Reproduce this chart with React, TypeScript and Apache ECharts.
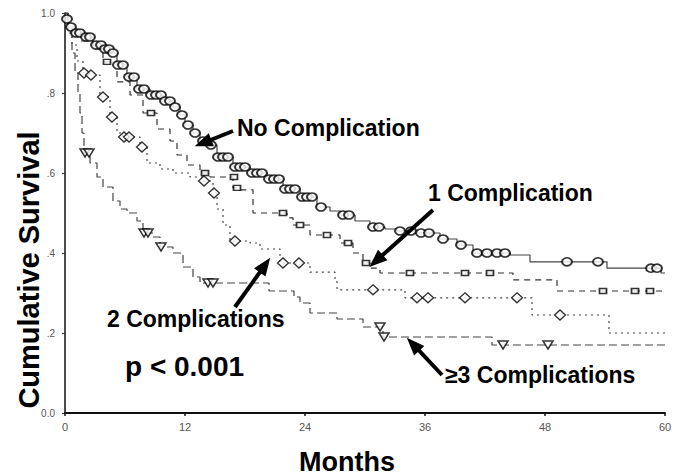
import React, { useEffect, useRef } from "react";
import * as echarts from "echarts";

// ---- axis ticks ----
const xTicks = [0, 12, 24, 36, 48, 60];
const yTicks = [0, 0.2, 0.4, 0.6, 0.8, 1.0];

// ---- No Complication (Kaplan-Meier steps) ----
const noCompMonths = [0, 0.3, 1.0, 2.0, 2.8, 3.8, 4.5, 5.2, 6.2, 7.2, 8.5, 9.8, 10.8, 11.5, 12.0, 12.8, 13.5, 14.2, 15.2, 16.8, 18.5, 20.2, 21.8, 23.5, 25.2, 26.5, 27.5, 29.0, 30.5, 32.0, 33.2, 35.2, 37.5, 39.2, 40.8, 44.5, 46.5, 54.2, 59.6, 60];
const noCompSurv = [1.0, 0.965, 0.95, 0.94, 0.92, 0.91, 0.9, 0.87, 0.84, 0.81, 0.795, 0.78, 0.765, 0.745, 0.72, 0.7, 0.68, 0.67, 0.64, 0.615, 0.6, 0.585, 0.56, 0.54, 0.515, 0.505, 0.495, 0.48, 0.465, 0.46, 0.455, 0.45, 0.435, 0.42, 0.4, 0.395, 0.378, 0.362, 0.35, 0.35];
const noCompCensored = [[0.2, 0.985], [0.6, 0.965], [1.1, 0.95], [1.5, 0.95], [2.1, 0.94], [2.5, 0.94], [3.1, 0.92], [3.6, 0.92], [4.0, 0.91], [4.4, 0.91], [4.8, 0.9], [5.3, 0.87], [5.8, 0.87], [6.4, 0.84], [6.9, 0.84], [7.4, 0.81], [7.9, 0.81], [8.6, 0.795], [9.1, 0.795], [9.6, 0.795], [10.0, 0.78], [10.5, 0.78], [11.0, 0.765], [11.7, 0.745], [12.3, 0.72], [13.0, 0.7], [13.8, 0.68], [14.6, 0.67], [15.3, 0.64], [15.8, 0.64], [16.3, 0.64], [17.0, 0.615], [17.5, 0.615], [18.0, 0.615], [18.7, 0.6], [19.2, 0.6], [19.7, 0.6], [20.4, 0.585], [20.9, 0.585], [21.4, 0.585], [22.0, 0.56], [22.5, 0.56], [23.0, 0.56], [23.7, 0.54], [24.2, 0.54], [24.7, 0.54], [25.6, 0.515], [27.8, 0.495], [28.4, 0.495], [30.8, 0.465], [31.4, 0.465], [33.5, 0.455], [34.6, 0.455], [35.6, 0.45], [36.4, 0.45], [37.8, 0.435], [39.6, 0.42], [41.2, 0.4], [42.2, 0.4], [43.2, 0.4], [44.0, 0.4], [50.2, 0.378], [53.3, 0.378], [58.6, 0.362], [59.2, 0.362]];

// ---- 1 Complication ----
const oneMonths = [0, 0.3, 0.8, 1.5, 2.8, 3.8, 5.2, 6.5, 7.8, 9.2, 10.5, 11.2, 12.2, 13.5, 14.5, 16.8, 17.5, 18.8, 22.2, 22.8, 24.5, 27.5, 28.8, 29.8, 30.5, 31.5, 44.8, 49.2, 60];
const oneSurv = [1.0, 0.96, 0.945, 0.93, 0.91, 0.878, 0.828, 0.795, 0.75, 0.71, 0.68, 0.645, 0.62, 0.6, 0.59, 0.563, 0.558, 0.5, 0.488, 0.47, 0.445, 0.425, 0.4, 0.375, 0.362, 0.35, 0.333, 0.305, 0.305];
const oneCensored = [[4.2, 0.878], [8.6, 0.75], [14.0, 0.6], [16.9, 0.59], [17.2, 0.563], [21.8, 0.5], [23.5, 0.47], [26.2, 0.445], [28.3, 0.425], [30.1, 0.375], [34.5, 0.35], [40.0, 0.35], [42.5, 0.35], [53.8, 0.305], [57.0, 0.305], [58.5, 0.305]];

// ---- 2 Complications ----
const twoMonths = [0, 0.3, 0.7, 1.2, 1.8, 2.5, 3.5, 4.5, 5.2, 5.8, 7.5, 8.2, 9.5, 10.8, 12.5, 13.8, 14.8, 15.2, 15.8, 16.5, 18.5, 19.5, 21.5, 24.5, 27.0, 27.2, 34.0, 46.7, 54.4, 60];
const twoSurv = [1.0, 0.96, 0.92, 0.88, 0.85, 0.845, 0.79, 0.74, 0.7, 0.69, 0.665, 0.625, 0.61, 0.6, 0.59, 0.58, 0.55, 0.51, 0.47, 0.43, 0.425, 0.41, 0.375, 0.352, 0.33, 0.308, 0.288, 0.245, 0.2, 0.2];
const twoCensored = [[1.9, 0.85], [2.6, 0.845], [3.8, 0.79], [4.7, 0.74], [5.9, 0.69], [6.4, 0.69], [7.7, 0.665], [13.9, 0.58], [14.9, 0.55], [17.0, 0.43], [21.8, 0.375], [23.4, 0.375], [30.8, 0.308], [35.2, 0.288], [36.3, 0.288], [40.0, 0.288], [45.2, 0.288], [49.5, 0.245]];

// ---- >=3 Complications ----
const threeMonths = [0, 0.3, 0.7, 1.0, 1.3, 1.5, 1.7, 1.9, 2.5, 3.2, 3.8, 4.8, 5.5, 6.2, 7.2, 7.8, 8.8, 9.5, 10.8, 11.8, 12.8, 13.5, 20.4, 22.9, 23.5, 24.5, 27.2, 29.8, 31.8, 42.7, 60];
const threeSurv = [1.0, 0.95, 0.9, 0.85, 0.8, 0.75, 0.7, 0.65, 0.625, 0.59, 0.565, 0.53, 0.51, 0.5, 0.48, 0.45, 0.44, 0.415, 0.4, 0.365, 0.34, 0.325, 0.305, 0.29, 0.275, 0.25, 0.235, 0.215, 0.19, 0.17, 0.17];
const threeCensored = [[2.0, 0.65], [2.4, 0.65], [7.9, 0.45], [8.3, 0.45], [9.6, 0.415], [14.3, 0.325], [14.8, 0.325], [31.5, 0.215], [31.9, 0.19], [43.8, 0.17], [48.3, 0.17]];

// ---- annotation arrows [tail, tip] in data units ----
const arrows = [
  [[16.8, 0.705], [13.8, 0.675]],
  [[36.8, 0.5075], [31.1, 0.38]],
  [[17.0, 0.265], [20.0, 0.37]],
  [[37.7, 0.095], [34.8, 0.172]],
];

const zip = (xs: number[], ys: number[]) => xs.map((x, i) => [x, ys[i]]);
const FONT = "'Liberation Sans', Arial, Helvetica, sans-serif";

export default function App() {
  const ref = useRef<HTMLDivElement>(null);
  useEffect(() => {
    const chart = echarts.init(ref.current!, null, { renderer: "svg" });
    const lineBase = { type: "line", step: "end", showSymbol: false, symbol: "none", silent: true, z: 2 };
    const option: any = {
      animation: false,
      backgroundColor: "#fff",
      grid: { left: 65, top: 13, width: 600, height: 400, containLabel: false, outerBoundsMode: "none" },
      xAxis: {
        type: "value",
        min: 0,
        max: 60,
        interval: 12,
        axisLine: { lineStyle: { color: "#111", width: 2 } },
        axisTick: { show: true, length: 3, lineStyle: { color: "#111", width: 1.5 } },
        axisLabel: { margin: 8, fontSize: 11, color: "#555", fontFamily: FONT, customValues: xTicks },
        splitLine: { show: false },
      },
      yAxis: {
        type: "value",
        min: 0,
        max: 1,
        interval: 0.2,
        axisLine: { show: true, lineStyle: { color: "#111", width: 1.5 } },
        axisTick: { show: true, length: 3, lineStyle: { color: "#333", width: 1 } },
        axisLabel: {
          margin: 10,
          fontSize: 10,
          color: "#555",
          fontFamily: FONT,
          formatter: (v: number) => (v >= 0.999 ? "1.0" : v <= 0.001 ? "0.0" : "." + Math.round(v * 10)),
        },
        splitLine: { show: false },
      },
      series: [
        {
          ...lineBase,
          name: "No Complication",
          data: zip(noCompMonths, noCompSurv),
          lineStyle: { color: "#444", width: 1.2 },
          markLine: {
            silent: true,
            symbol: ["none", "triangle"],
            symbolSize: [14, 18],
            label: { show: false },
            lineStyle: { color: "#000", width: 4, type: "solid" },
            data: arrows.map((a) => [{ coord: a[0] }, { coord: a[1] }]),
            z: 10,
          },
        },
        { ...lineBase, name: "1 Complication", data: zip(oneMonths, oneSurv), lineStyle: { color: "#333", width: 1.2, type: [6, 5] } },
        { ...lineBase, name: "2 Complications", data: zip(twoMonths, twoSurv), lineStyle: { color: "#444", width: 1.2, type: [2, 4] } },
        { ...lineBase, name: ">=3 Complications", data: zip(threeMonths, threeSurv), lineStyle: { color: "#444", width: 1.2, type: [8, 4] } },
        {
          type: "scatter", silent: true, z: 3, data: noCompCensored, symbol: "circle", symbolSize: [10, 8],
          itemStyle: { color: "#fff", borderColor: "#000", borderWidth: 1.8 },
        },
        {
          type: "scatter", silent: true, z: 3, data: oneCensored, symbol: "rect", symbolSize: [7, 5],
          itemStyle: { color: "#fff", borderColor: "#000", borderWidth: 1.5 },
        },
        {
          type: "scatter", silent: true, z: 3, data: twoCensored, symbol: "diamond", symbolSize: [11, 10],
          itemStyle: { color: "#fff", borderColor: "#000", borderWidth: 1.3 },
        },
        {
          type: "scatter", silent: true, z: 3, data: threeCensored, symbol: "triangle", symbolRotate: 180, symbolSize: [10, 8],
          itemStyle: { color: "#fff", borderColor: "#000", borderWidth: 1.5 },
        },
      ],
      graphic: [
        { type: "text", x: 237, y: 128, style: { text: "No Complication", font: `bold 23px ${FONT}`, fill: "#000", align: "left", verticalAlign: "middle" } },
        { type: "text", x: 428, y: 193, style: { text: "1 Complication", font: `bold 23px ${FONT}`, fill: "#000", align: "left", verticalAlign: "middle" } },
        { type: "text", x: 107, y: 318.5, style: { text: "2 Complications", font: `bold 23px ${FONT}`, fill: "#000", align: "left", verticalAlign: "middle" } },
        { type: "text", x: 125, y: 366, style: { text: "p < 0.001", font: `bold 28px ${FONT}`, fill: "#000", align: "left", verticalAlign: "middle" } },
        { type: "text", x: 445, y: 375, style: { text: "≥3 Complications", font: `bold 23px ${FONT}`, fill: "#000", align: "left", verticalAlign: "middle" } },
        { type: "text", x: 347, y: 462, style: { text: "Months", font: `bold 27px ${FONT}`, fill: "#000", align: "center", verticalAlign: "middle" } },
        { type: "text", x: 29, y: 270, rotation: Math.PI / 2, style: { text: "Cumulative Survival", font: `bold 29px ${FONT}`, fill: "#000", align: "center", verticalAlign: "middle" } },
      ],
    };
    chart.setOption(option);
    return () => chart.dispose();
  }, []);
  return <div ref={ref} style={{ position: "fixed", left: 0, top: 0, width: 692, height: 476, background: "#fff" }} />;
}
